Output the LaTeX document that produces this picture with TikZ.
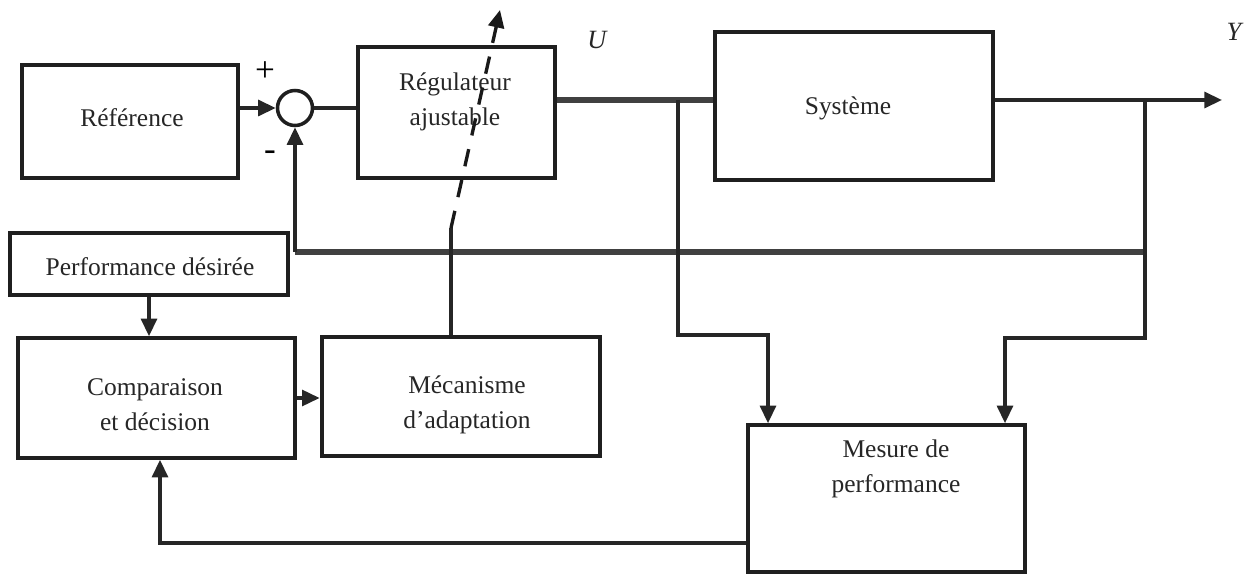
\documentclass[tikz,border=0pt]{standalone}
\usepackage{fontspec}
\setmainfont{Liberation Serif}
\usetikzlibrary{arrows.meta,calc}
\begin{document}
\begin{tikzpicture}[x=0.02cm,y=-0.02cm,
  every node/.style={font=\fontsize{14.5}{20}\selectfont},
  blk/.style={draw=black!88,line width=2pt,rectangle,inner sep=0pt},
  txt/.style={align=center,inner sep=0pt,text=black!85},
  wire/.style={draw=black!85,line width=1.9pt},
  bus/.style={draw=black!75,line width=2.9pt},
  arr/.style={wire,-{Triangle[length=10pt,width=9pt]}},
  adapt/.style={draw=black!90,line width=1.9pt,dash pattern=on 10pt off 8pt,-{Triangle[length=10pt,width=9pt]}},
  sign/.style={inner sep=0pt,font=\fontsize{20}{20}\selectfont}]
\useasboundingbox (0,0) rectangle (1248,574);

% blocks
\node[blk,minimum width=4.32cm,minimum height=2.26cm] (ref) at (130,121.5) {};
\node[txt] (refT) at (132,118) {Référence};
\node[draw=black!88,line width=2pt,circle,minimum size=0.7cm,inner sep=0pt] (sum) at (295,108) {};
\node[blk,minimum width=3.94cm,minimum height=2.62cm] (reg) at (456.5,112.5) {};
\node[txt] (regT) at (455,102) {Régulateur\\ajustable};
\node[blk,minimum width=5.56cm,minimum height=2.96cm] (sys) at (854,106) {};
\node[txt] (sysT) at (848,108) {Système};
\node[blk,minimum width=5.56cm,minimum height=1.24cm] (pd) at (149,264) {};
\node[txt] (pdT) at (150,267) {Performance désirée};
\node[blk,minimum width=5.54cm,minimum height=2.4cm] (cmp) at (156.5,398) {};
\node[txt] (cmpT) at (155,405) {Comparaison\\et décision};
\node[blk,line width=2.7pt,minimum width=5.56cm,minimum height=2.38cm] (mec) at (461,396.5) {};
\node[txt] (mecT) at (467,405) {Mécanisme\\d’adaptation};
\node[blk,minimum width=5.54cm,minimum height=2.94cm] (mes) at (886.5,498.5) {};
\node[txt] (mesT) at (896,469) {Mesure de\\performance};

% signs and signal names
\node[sign] (plus) at (265,72) {+};
\node[sign] (minus) at (270,156) {-};
\node[txt,font=\fontsize{15}{15}\selectfont\itshape] (U) at (597,40) {U};
\node[txt,font=\fontsize{15}{15}\selectfont\itshape] (Y) at (1234,32) {Y};

% branch points and corners
\coordinate (bu) at (678,100);
\coordinate (by) at (1145,100);
\coordinate (yout) at (1222,100);
\coordinate (fb) at (1145,252);
\coordinate (c1) at (768,335);
\coordinate (c2) at (1005,338);
\coordinate (c3) at (160,543);
\coordinate (ad0) at (451,228);
\coordinate (ad1) at (500,10);

% forward path
\draw[arr] (sum.west -| ref.east) -- (sum.west);
\draw[wire] (sum.east) -- (sum.east -| reg.west);
\draw[bus] (by -| reg.east) -- (by -| sys.west);
\draw[arr] (by -| sys.east) -- (yout);

% feedback to the summing junction
\draw[bus] (fb) -- (fb -| sum.south);
\draw[arr] (fb -| sum.south) -- (sum.south);
\draw[wire] (by) -- (fb);

% measurement branches
\draw[arr] (bu) |- (c1) -- (c1 |- mes.north);
\draw[arr] (fb) |- (c2) -- (c2 |- mes.north);

% adaptation loop
\draw[arr] (pd.south) -- (pd.south |- cmp.north);
\draw[arr] (mes.west |- c3) -| (cmp.south -| c3);
\draw[arr] (cmp.east |- 0,398) -- (mec.west |- 0,398);
\draw[wire] (mec.north -| ad0) -- (ad0);
\draw[adapt] (ad0) -- (ad1);
\end{tikzpicture}
\end{document}
